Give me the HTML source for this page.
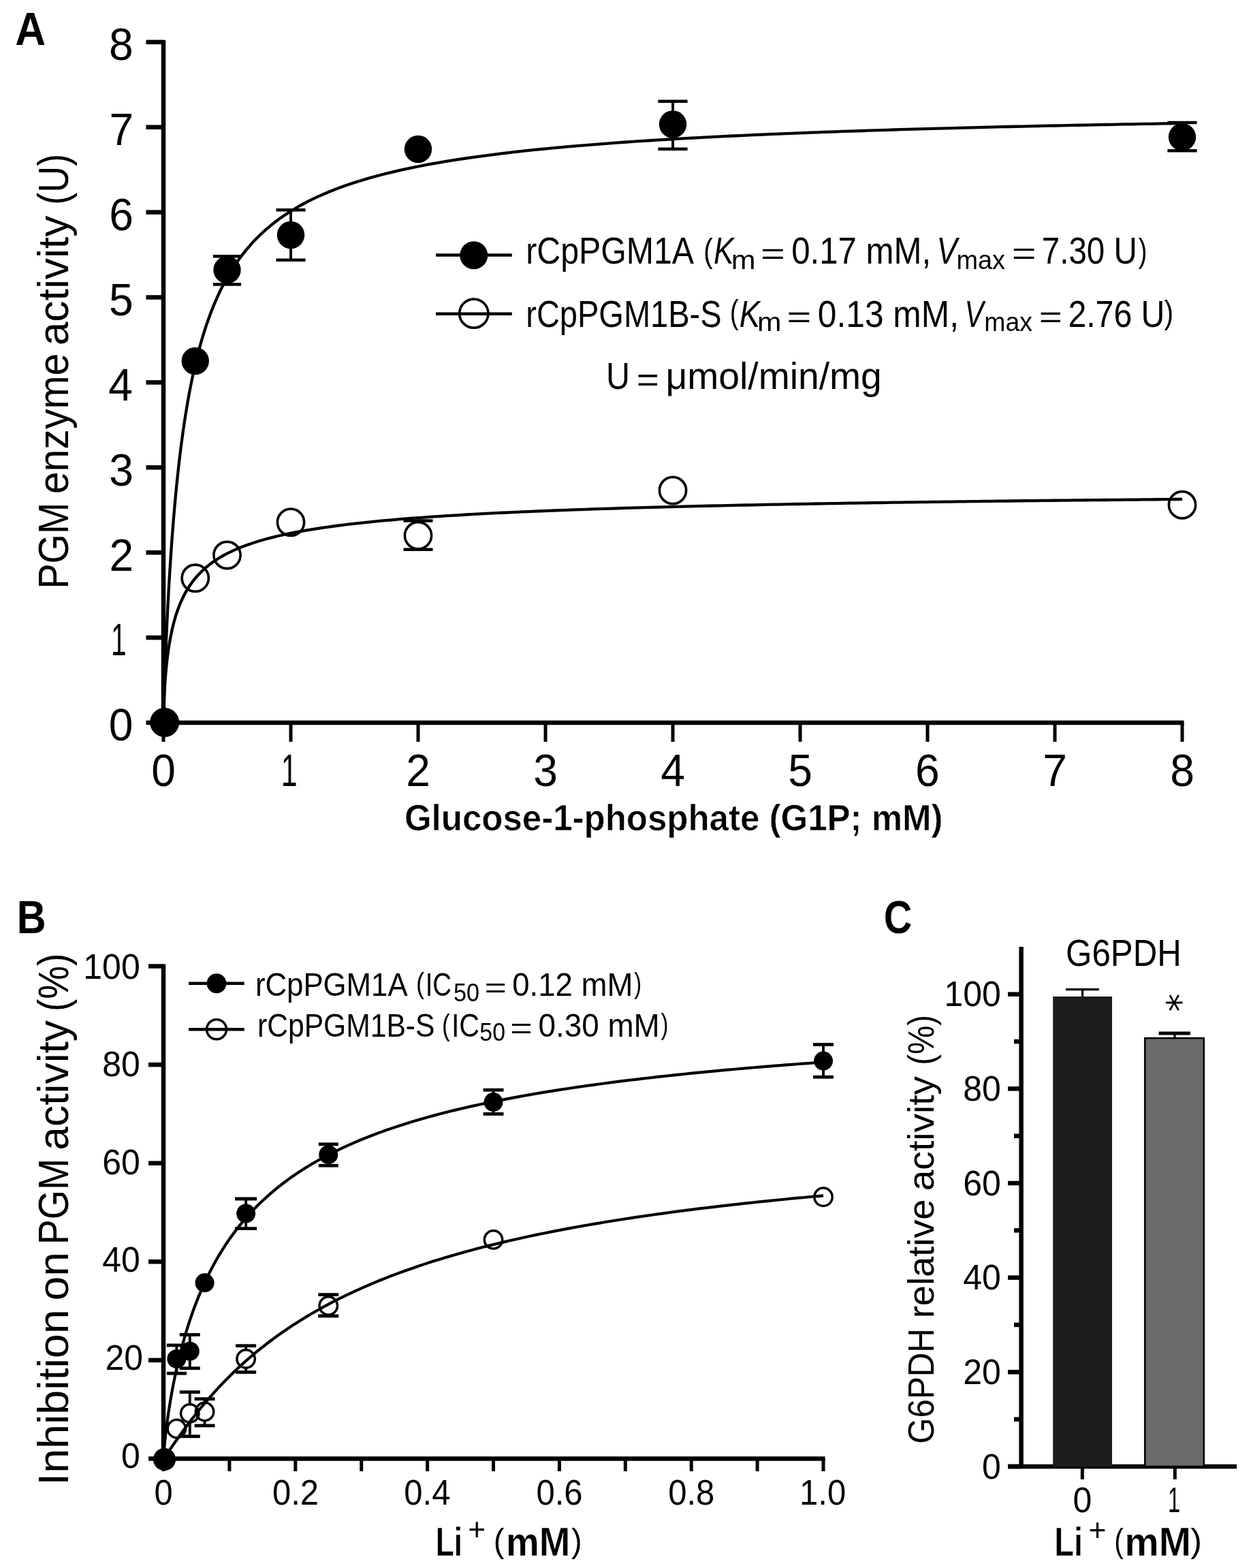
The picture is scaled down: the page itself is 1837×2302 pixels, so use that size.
<!DOCTYPE html>
<html><head><meta charset="utf-8"><title>PGM enzyme activity figure</title>
<style>html,body{margin:0;padding:0;background:#fff;}svg{display:block;}text{font-kerning:none;}</style>
</head><body>
<svg width="1837" height="2302" viewBox="0 0 1837 2302" font-family="'Liberation Sans', Arial, sans-serif" fill="#000">
<rect width="1837" height="2302" fill="#fff"/>
<g stroke="#000" stroke-linecap="butt">
<line x1="240.00" y1="58.80" x2="240.00" y2="1064.00" stroke-width="6.5"/>
<line x1="237.00" y1="1061.00" x2="1738.50" y2="1061.00" stroke-width="6.5"/>
<line x1="214.50" y1="1061.00" x2="240.00" y2="1061.00" stroke-width="6.5"/>
<line x1="214.50" y1="936.10" x2="240.00" y2="936.10" stroke-width="6.5"/>
<line x1="214.50" y1="811.20" x2="240.00" y2="811.20" stroke-width="6.5"/>
<line x1="214.50" y1="686.30" x2="240.00" y2="686.30" stroke-width="6.5"/>
<line x1="214.50" y1="561.40" x2="240.00" y2="561.40" stroke-width="6.5"/>
<line x1="214.50" y1="436.50" x2="240.00" y2="436.50" stroke-width="6.5"/>
<line x1="214.50" y1="311.60" x2="240.00" y2="311.60" stroke-width="6.5"/>
<line x1="214.50" y1="186.70" x2="240.00" y2="186.70" stroke-width="6.5"/>
<line x1="214.50" y1="61.80" x2="240.00" y2="61.80" stroke-width="6.5"/>
<line x1="240.00" y1="1061.00" x2="240.00" y2="1089.00" stroke-width="5"/>
<line x1="427.00" y1="1061.00" x2="427.00" y2="1089.00" stroke-width="5"/>
<line x1="614.00" y1="1061.00" x2="614.00" y2="1089.00" stroke-width="5"/>
<line x1="801.00" y1="1061.00" x2="801.00" y2="1089.00" stroke-width="5"/>
<line x1="988.00" y1="1061.00" x2="988.00" y2="1089.00" stroke-width="5"/>
<line x1="1175.00" y1="1061.00" x2="1175.00" y2="1089.00" stroke-width="5"/>
<line x1="1362.00" y1="1061.00" x2="1362.00" y2="1089.00" stroke-width="5"/>
<line x1="1549.00" y1="1061.00" x2="1549.00" y2="1089.00" stroke-width="5"/>
<line x1="1736.00" y1="1061.00" x2="1736.00" y2="1089.00" stroke-width="5"/>
</g>
<text x="159.84" y="1087.30" font-size="67.5" textLength="35.66" lengthAdjust="spacingAndGlyphs">0</text>
<text x="162.91" y="962.40" font-size="67.5" textLength="22.57" lengthAdjust="spacingAndGlyphs">1</text>
<text x="160.56" y="837.50" font-size="67.5" textLength="35.66" lengthAdjust="spacingAndGlyphs">2</text>
<text x="160.15" y="712.60" font-size="67.5" textLength="35.66" lengthAdjust="spacingAndGlyphs">3</text>
<text x="159.22" y="587.70" font-size="67.5" textLength="35.66" lengthAdjust="spacingAndGlyphs">4</text>
<text x="160.03" y="462.80" font-size="67.5" textLength="35.66" lengthAdjust="spacingAndGlyphs">5</text>
<text x="160.15" y="337.90" font-size="67.5" textLength="35.66" lengthAdjust="spacingAndGlyphs">6</text>
<text x="160.56" y="213.00" font-size="67.5" textLength="35.66" lengthAdjust="spacingAndGlyphs">7</text>
<text x="160.12" y="88.10" font-size="67.5" textLength="35.66" lengthAdjust="spacingAndGlyphs">8</text>
<text x="222.17" y="1153.50" font-size="67.5" textLength="35.66" lengthAdjust="spacingAndGlyphs">0</text>
<text x="412.73" y="1153.50" font-size="67.5" textLength="23.86" lengthAdjust="spacingAndGlyphs">1</text>
<text x="596.17" y="1153.50" font-size="67.5" textLength="35.66" lengthAdjust="spacingAndGlyphs">2</text>
<text x="783.36" y="1153.50" font-size="67.5" textLength="35.66" lengthAdjust="spacingAndGlyphs">3</text>
<text x="970.37" y="1153.50" font-size="67.5" textLength="35.66" lengthAdjust="spacingAndGlyphs">4</text>
<text x="1157.23" y="1153.50" font-size="67.5" textLength="35.66" lengthAdjust="spacingAndGlyphs">5</text>
<text x="1343.95" y="1153.50" font-size="67.5" textLength="35.66" lengthAdjust="spacingAndGlyphs">6</text>
<text x="1531.14" y="1153.50" font-size="67.5" textLength="35.66" lengthAdjust="spacingAndGlyphs">7</text>
<text x="1718.17" y="1153.50" font-size="67.5" textLength="35.66" lengthAdjust="spacingAndGlyphs">8</text>
<text transform="translate(99.80,860.00) rotate(-90)" x="-4.57" y="0" font-size="63.7" textLength="126.84" lengthAdjust="spacingAndGlyphs">PGM</text>
<text transform="translate(99.80,722.80) rotate(-90)" x="-2.51" y="0" font-size="63.7" textLength="206.73" lengthAdjust="spacingAndGlyphs">enzyme</text>
<text transform="translate(99.80,504.70) rotate(-90)" x="-2.65" y="0" font-size="63.7" textLength="190.77" lengthAdjust="spacingAndGlyphs">activity</text>
<text transform="translate(99.80,297.40) rotate(-90)" x="-3.35" y="0" font-size="63.7" textLength="74.89" lengthAdjust="spacingAndGlyphs">(U)</text>
<text x="593.91" y="1218.75" font-size="53.5" font-weight="bold" textLength="790.63" lengthAdjust="spacingAndGlyphs" stroke="#fff" stroke-width="0.6">Glucose-1-phosphate (G1P; mM)</text>
<text x="22.20" y="66.00" font-size="67.6" font-weight="bold" textLength="44.94" lengthAdjust="spacingAndGlyphs">A</text>
<g>
<path d="M240.00,1061.00 L240.24,1050.16 L240.48,1041.01 L240.72,1032.51 L240.96,1024.45 L241.20,1016.74 L241.44,1009.31 L241.68,1002.14 L241.92,995.19 L242.16,988.43 L242.40,981.86 L242.64,975.46 L242.88,969.21 L243.12,963.11 L243.36,957.14 L243.60,951.31 L243.84,945.60 L244.08,940.00 L244.32,934.52 L244.56,929.14 L244.79,923.86 L245.03,918.68 L245.27,913.60 L245.51,908.61 L245.75,903.70 L245.99,898.87 L246.23,894.13 L246.47,889.47 L246.71,884.88 L246.95,880.36 L247.19,875.92 L247.43,871.54 L247.67,867.23 L247.91,862.99 L248.15,858.80 L248.39,854.68 L248.63,850.62 L248.87,846.62 L249.11,842.67 L249.35,838.78 L249.35,838.78 L250.78,816.70 L252.20,796.26 L253.63,777.27 L255.06,759.55 L256.48,742.96 L257.91,727.39 L259.33,712.74 L260.76,698.92 L262.19,685.86 L263.61,673.48 L265.04,661.74 L266.47,650.57 L267.89,639.95 L269.32,629.82 L270.74,620.15 L272.17,610.90 L273.60,602.06 L275.02,593.59 L276.45,585.46 L277.88,577.65 L279.30,570.16 L280.73,562.94 L282.15,556.00 L283.58,549.31 L285.01,542.86 L286.43,536.64 L287.86,530.63 L289.29,524.82 L290.71,519.21 L292.14,513.78 L293.56,508.52 L294.99,503.42 L296.42,498.48 L297.84,493.69 L299.27,489.05 L300.70,484.54 L302.12,480.16 L303.55,475.90 L304.97,471.76 L306.40,467.73 L307.83,463.82 L309.25,460.01 L310.68,456.29 L312.11,452.68 L313.53,449.15 L314.96,445.72 L316.38,442.37 L317.81,439.10 L319.24,435.91 L320.66,432.79 L322.09,429.75 L323.52,426.78 L324.94,423.88 L326.37,421.04 L327.79,418.27 L329.22,415.56 L330.65,412.90 L332.07,410.31 L333.50,407.77 L333.50,407.77 L342.91,392.26 L352.33,378.65 L361.74,366.60 L371.15,355.85 L380.56,346.20 L389.98,337.47 L399.39,329.55 L408.80,322.32 L418.21,315.70 L427.63,309.60 L437.04,303.97 L446.45,298.75 L455.87,293.91 L465.28,289.39 L474.69,285.17 L484.10,281.22 L493.52,277.51 L502.93,274.02 L512.34,270.74 L521.76,267.63 L531.17,264.70 L540.58,261.92 L549.99,259.28 L559.41,256.77 L568.82,254.39 L578.23,252.12 L587.64,249.95 L597.06,247.88 L606.47,245.91 L615.88,244.01 L625.30,242.20 L634.71,240.46 L644.12,238.80 L653.53,237.19 L662.95,235.65 L672.36,234.17 L681.77,232.75 L691.18,231.37 L700.60,230.04 L710.01,228.77 L719.42,227.53 L728.84,226.34 L738.25,225.18 L747.66,224.07 L757.07,222.98 L766.49,221.94 L775.90,220.92 L785.31,219.94 L794.72,218.99 L804.14,218.06 L813.55,217.16 L822.96,216.29 L832.38,215.44 L841.79,214.62 L851.20,213.81 L860.61,213.03 L870.03,212.27 L879.44,211.53 L888.85,210.81 L898.27,210.11 L907.68,209.43 L917.09,208.76 L926.50,208.11 L935.92,207.47 L945.33,206.85 L954.74,206.24 L964.15,205.65 L973.57,205.08 L982.98,204.51 L992.39,203.96 L1001.81,203.42 L1011.22,202.89 L1020.63,202.37 L1030.04,201.87 L1039.46,201.37 L1048.87,200.89 L1058.28,200.42 L1067.69,199.95 L1077.11,199.50 L1086.52,199.05 L1095.93,198.61 L1105.35,198.18 L1114.76,197.76 L1124.17,197.35 L1133.58,196.95 L1143.00,196.55 L1152.41,196.16 L1161.82,195.78 L1171.23,195.41 L1180.65,195.04 L1190.06,194.68 L1199.47,194.32 L1208.89,193.97 L1218.30,193.63 L1227.71,193.29 L1237.12,192.96 L1246.54,192.64 L1255.95,192.32 L1265.36,192.00 L1274.78,191.69 L1284.19,191.39 L1293.60,191.09 L1303.01,190.79 L1312.43,190.50 L1321.84,190.22 L1331.25,189.94 L1340.66,189.66 L1350.08,189.39 L1359.49,189.12 L1368.90,188.86 L1378.32,188.60 L1387.73,188.34 L1397.14,188.09 L1406.55,187.84 L1415.97,187.60 L1425.38,187.36 L1434.79,187.12 L1444.20,186.88 L1453.62,186.65 L1463.03,186.43 L1472.44,186.20 L1481.86,185.98 L1491.27,185.76 L1500.68,185.55 L1510.09,185.33 L1519.51,185.12 L1528.92,184.92 L1538.33,184.71 L1547.74,184.51 L1557.16,184.31 L1566.57,184.12 L1575.98,183.92 L1585.40,183.73 L1594.81,183.54 L1604.22,183.36 L1613.63,183.17 L1623.05,182.99 L1632.46,182.81 L1641.87,182.64 L1651.29,182.46 L1660.70,182.29 L1670.11,182.12 L1679.52,181.95 L1688.94,181.78 L1698.35,181.62 L1707.76,181.46 L1717.17,181.29 L1726.59,181.14 L1736.00,180.98" fill="none" stroke="#000" stroke-width="4.3" stroke-linejoin="round"/>
<path d="M240.00,1061.00 L240.24,1046.22 L240.48,1037.98 L240.72,1031.36 L240.96,1025.65 L241.20,1020.57 L241.44,1015.97 L241.68,1011.73 L241.92,1007.79 L242.16,1004.11 L242.40,1000.64 L242.64,997.37 L242.88,994.26 L243.12,991.30 L243.36,988.47 L243.60,985.76 L243.84,983.15 L244.08,980.65 L244.32,978.25 L244.56,975.92 L244.79,973.68 L245.03,971.50 L245.27,969.40 L245.51,967.36 L245.75,965.38 L245.99,963.46 L246.23,961.59 L246.47,959.77 L246.71,958.00 L246.95,956.27 L247.19,954.59 L247.43,952.95 L247.67,951.35 L247.91,949.78 L248.15,948.25 L248.39,946.75 L248.63,945.29 L248.87,943.86 L249.11,942.45 L249.35,941.08 L249.35,941.08 L250.78,933.44 L252.20,926.58 L253.63,920.38 L255.06,914.71 L256.48,909.50 L257.91,904.69 L259.33,900.22 L260.76,896.06 L262.19,892.16 L263.61,888.50 L265.04,885.05 L266.47,881.80 L267.89,878.72 L269.32,875.80 L270.74,873.02 L272.17,870.38 L273.60,867.85 L275.02,865.44 L276.45,863.13 L277.88,860.92 L279.30,858.80 L280.73,856.77 L282.15,854.81 L283.58,852.92 L285.01,851.11 L286.43,849.35 L287.86,847.66 L289.29,846.03 L290.71,844.44 L292.14,842.91 L293.56,841.43 L294.99,840.00 L296.42,838.60 L297.84,837.25 L299.27,835.94 L300.70,834.66 L302.12,833.42 L303.55,832.22 L304.97,831.04 L306.40,829.90 L307.83,828.79 L309.25,827.70 L310.68,826.64 L312.11,825.61 L313.53,824.61 L314.96,823.62 L316.38,822.66 L317.81,821.73 L319.24,820.81 L320.66,819.91 L322.09,819.04 L323.52,818.18 L324.94,817.34 L326.37,816.52 L327.79,815.72 L329.22,814.93 L330.65,814.16 L332.07,813.40 L333.50,812.66 L333.50,812.66 L342.91,808.11 L352.33,804.07 L361.74,800.45 L371.15,797.19 L380.56,794.23 L389.98,791.53 L399.39,789.05 L408.80,786.76 L418.21,784.65 L427.63,782.68 L437.04,780.85 L446.45,779.14 L455.87,777.54 L465.28,776.03 L474.69,774.61 L484.10,773.27 L493.52,772.00 L502.93,770.80 L512.34,769.65 L521.76,768.57 L531.17,767.53 L540.58,766.55 L549.99,765.61 L559.41,764.70 L568.82,763.84 L578.23,763.02 L587.64,762.22 L597.06,761.46 L606.47,760.73 L615.88,760.02 L625.30,759.34 L634.71,758.69 L644.12,758.05 L653.53,757.44 L662.95,756.85 L672.36,756.28 L681.77,755.73 L691.18,755.19 L700.60,754.68 L710.01,754.17 L719.42,753.69 L728.84,753.21 L738.25,752.75 L747.66,752.31 L757.07,751.87 L766.49,751.45 L775.90,751.04 L785.31,750.64 L794.72,750.25 L804.14,749.87 L813.55,749.50 L822.96,749.14 L832.38,748.79 L841.79,748.44 L851.20,748.11 L860.61,747.78 L870.03,747.46 L879.44,747.15 L888.85,746.84 L898.27,746.54 L907.68,746.25 L917.09,745.96 L926.50,745.68 L935.92,745.41 L945.33,745.14 L954.74,744.88 L964.15,744.62 L973.57,744.37 L982.98,744.12 L992.39,743.88 L1001.81,743.64 L1011.22,743.40 L1020.63,743.18 L1030.04,742.95 L1039.46,742.73 L1048.87,742.51 L1058.28,742.30 L1067.69,742.09 L1077.11,741.89 L1086.52,741.68 L1095.93,741.49 L1105.35,741.29 L1114.76,741.10 L1124.17,740.91 L1133.58,740.72 L1143.00,740.54 L1152.41,740.36 L1161.82,740.19 L1171.23,740.01 L1180.65,739.84 L1190.06,739.67 L1199.47,739.51 L1208.89,739.34 L1218.30,739.18 L1227.71,739.03 L1237.12,738.87 L1246.54,738.72 L1255.95,738.56 L1265.36,738.42 L1274.78,738.27 L1284.19,738.12 L1293.60,737.98 L1303.01,737.84 L1312.43,737.70 L1321.84,737.56 L1331.25,737.43 L1340.66,737.29 L1350.08,737.16 L1359.49,737.03 L1368.90,736.90 L1378.32,736.78 L1387.73,736.65 L1397.14,736.53 L1406.55,736.41 L1415.97,736.29 L1425.38,736.17 L1434.79,736.05 L1444.20,735.94 L1453.62,735.82 L1463.03,735.71 L1472.44,735.60 L1481.86,735.49 L1491.27,735.38 L1500.68,735.27 L1510.09,735.17 L1519.51,735.06 L1528.92,734.96 L1538.33,734.85 L1547.74,734.75 L1557.16,734.65 L1566.57,734.55 L1575.98,734.46 L1585.40,734.36 L1594.81,734.26 L1604.22,734.17 L1613.63,734.07 L1623.05,733.98 L1632.46,733.89 L1641.87,733.80 L1651.29,733.71 L1660.70,733.62 L1670.11,733.53 L1679.52,733.45 L1688.94,733.36 L1698.35,733.27 L1707.76,733.19 L1717.17,733.11 L1726.59,733.02 L1736.00,732.94" fill="none" stroke="#000" stroke-width="4.3" stroke-linejoin="round"/>
</g>
<g stroke="#000">
<line x1="333.50" y1="376.25" x2="333.50" y2="417.50" stroke-width="3.9"/>
<line x1="312.90" y1="376.25" x2="354.10" y2="376.25" stroke-width="4.4"/>
<line x1="312.90" y1="417.50" x2="354.10" y2="417.50" stroke-width="4.4"/>
<line x1="427.00" y1="308.25" x2="427.00" y2="381.75" stroke-width="3.9"/>
<line x1="405.50" y1="308.25" x2="448.50" y2="308.25" stroke-width="4.4"/>
<line x1="405.50" y1="381.75" x2="448.50" y2="381.75" stroke-width="4.4"/>
<line x1="988.00" y1="148.75" x2="988.00" y2="218.75" stroke-width="3.9"/>
<line x1="966.40" y1="148.75" x2="1009.60" y2="148.75" stroke-width="4.4"/>
<line x1="966.40" y1="218.75" x2="1009.60" y2="218.75" stroke-width="4.4"/>
<line x1="1736.00" y1="180.00" x2="1736.00" y2="221.25" stroke-width="3.9"/>
<line x1="1714.40" y1="180.00" x2="1757.60" y2="180.00" stroke-width="4.4"/>
<line x1="1714.40" y1="221.25" x2="1757.60" y2="221.25" stroke-width="4.4"/>
<line x1="614.00" y1="764.50" x2="614.00" y2="766.25" stroke-width="3.9"/>
<line x1="614.00" y1="806.25" x2="614.00" y2="806.75" stroke-width="3.9"/>
<line x1="592.50" y1="764.50" x2="635.50" y2="764.50" stroke-width="4.4"/>
<line x1="592.50" y1="806.75" x2="635.50" y2="806.75" stroke-width="4.4"/>
</g>
<circle cx="286.75" cy="848.75" r="19.6" fill="none" stroke="#000" stroke-width="3.6"/>
<circle cx="333.50" cy="815.00" r="19.6" fill="none" stroke="#000" stroke-width="3.6"/>
<circle cx="427.00" cy="766.75" r="19.6" fill="none" stroke="#000" stroke-width="3.6"/>
<circle cx="614.00" cy="786.25" r="19.6" fill="none" stroke="#000" stroke-width="3.6"/>
<circle cx="988.00" cy="720.00" r="19.6" fill="none" stroke="#000" stroke-width="3.6"/>
<circle cx="1736.00" cy="741.25" r="19.6" fill="none" stroke="#000" stroke-width="3.6"/>
<circle cx="241.70" cy="1060.60" r="21.5" fill="#000"/>
<circle cx="286.75" cy="530.00" r="20.2" fill="#000"/>
<circle cx="333.50" cy="396.25" r="20.2" fill="#000"/>
<circle cx="427.00" cy="345.00" r="20.2" fill="#000"/>
<circle cx="614.00" cy="219.00" r="20.2" fill="#000"/>
<circle cx="988.00" cy="182.50" r="20.2" fill="#000"/>
<circle cx="1736.00" cy="201.25" r="20.2" fill="#000"/>
<g stroke="#000">
<line x1="640.00" y1="374.50" x2="751.75" y2="374.50" stroke-width="4.4"/>
<line x1="640.00" y1="460.75" x2="751.75" y2="460.75" stroke-width="4.4"/>
</g>
<circle cx="695.75" cy="374.80" r="20.5" fill="#000"/>
<circle cx="695.80" cy="460.20" r="21.1" fill="none" stroke="#000" stroke-width="3.6"/>
<text x="772.19" y="387.40" font-size="55.0" textLength="246.80" lengthAdjust="spacingAndGlyphs">rCpPGM1A</text>
<text x="1033.05" y="385.07" font-size="49.91" textLength="13.69" lengthAdjust="spacingAndGlyphs">(</text>
<text x="1048.04" y="387.40" font-size="55.0" font-style="italic" textLength="29.54" lengthAdjust="spacingAndGlyphs">K</text>
<text x="1073.85" y="395.40" font-size="38.0" textLength="35.78" lengthAdjust="spacingAndGlyphs">m</text>
<text x="1116.91" y="387.66" font-size="44.99" textLength="35.82" lengthAdjust="spacingAndGlyphs">=</text>
<text x="1162.28" y="387.40" font-size="55.0" textLength="204.94" lengthAdjust="spacingAndGlyphs">0.17 mM,</text>
<text x="1375.59" y="387.40" font-size="55.0" font-style="italic" textLength="30.20" lengthAdjust="spacingAndGlyphs">V</text>
<text x="1404.39" y="395.40" font-size="38.0" textLength="71.52" lengthAdjust="spacingAndGlyphs">max</text>
<text x="1485.71" y="387.97" font-size="46.86" textLength="35.82" lengthAdjust="spacingAndGlyphs">=</text>
<text x="1529.87" y="387.40" font-size="55.0" textLength="139.79" lengthAdjust="spacingAndGlyphs">7.30 U</text>
<text x="1671.68" y="385.22" font-size="49.16" textLength="12.69" lengthAdjust="spacingAndGlyphs">)</text>
<text x="772.28" y="480.00" font-size="55.0" textLength="287.28" lengthAdjust="spacingAndGlyphs">rCpPGM1B-S</text>
<text x="1071.71" y="475.22" font-size="49.16" textLength="12.81" lengthAdjust="spacingAndGlyphs">(</text>
<text x="1085.81" y="480.00" font-size="55.0" font-style="italic" textLength="30.23" lengthAdjust="spacingAndGlyphs">K</text>
<text x="1111.98" y="486.00" font-size="38.0" textLength="35.43" lengthAdjust="spacingAndGlyphs">m</text>
<text x="1155.41" y="479.70" font-size="44.06" textLength="35.82" lengthAdjust="spacingAndGlyphs">=</text>
<text x="1200.86" y="480.00" font-size="55.0" textLength="207.11" lengthAdjust="spacingAndGlyphs">0.13 mM,</text>
<text x="1416.58" y="480.00" font-size="55.0" font-style="italic" textLength="27.97" lengthAdjust="spacingAndGlyphs">V</text>
<text x="1445.32" y="486.00" font-size="38.0" textLength="70.69" lengthAdjust="spacingAndGlyphs">max</text>
<text x="1525.86" y="479.70" font-size="44.06" textLength="34.02" lengthAdjust="spacingAndGlyphs">=</text>
<text x="1568.38" y="480.00" font-size="55.0" textLength="142.04" lengthAdjust="spacingAndGlyphs">2.76 U</text>
<text x="1709.46" y="475.38" font-size="48.41" textLength="13.69" lengthAdjust="spacingAndGlyphs">)</text>
<text x="890.01" y="571.00" font-size="56" textLength="34.97" lengthAdjust="spacingAndGlyphs">U</text>
<text x="934.74" y="574.30" font-size="50.58" textLength="33.06" lengthAdjust="spacingAndGlyphs">=</text>
<text x="977.53" y="571.00" font-size="56" textLength="317.28" lengthAdjust="spacingAndGlyphs">μmol/min/mg</text>
<g stroke="#000">
<line x1="240.00" y1="1415.50" x2="240.00" y2="2144.50" stroke-width="6.5"/>
<line x1="237.00" y1="2141.50" x2="1211.50" y2="2141.50" stroke-width="6.5"/>
<line x1="218.00" y1="2141.50" x2="240.00" y2="2141.50" stroke-width="6.5"/>
<line x1="218.00" y1="1996.90" x2="240.00" y2="1996.90" stroke-width="6.5"/>
<line x1="218.00" y1="1852.30" x2="240.00" y2="1852.30" stroke-width="6.5"/>
<line x1="218.00" y1="1707.70" x2="240.00" y2="1707.70" stroke-width="6.5"/>
<line x1="218.00" y1="1563.10" x2="240.00" y2="1563.10" stroke-width="6.5"/>
<line x1="218.00" y1="1418.50" x2="240.00" y2="1418.50" stroke-width="6.5"/>
<line x1="240.00" y1="2141.50" x2="240.00" y2="2160.00" stroke-width="5"/>
<line x1="336.90" y1="2141.50" x2="336.90" y2="2160.00" stroke-width="5"/>
<line x1="433.80" y1="2141.50" x2="433.80" y2="2160.00" stroke-width="5"/>
<line x1="530.70" y1="2141.50" x2="530.70" y2="2160.00" stroke-width="5"/>
<line x1="627.60" y1="2141.50" x2="627.60" y2="2160.00" stroke-width="5"/>
<line x1="724.50" y1="2141.50" x2="724.50" y2="2160.00" stroke-width="5"/>
<line x1="821.40" y1="2141.50" x2="821.40" y2="2160.00" stroke-width="5"/>
<line x1="918.30" y1="2141.50" x2="918.30" y2="2160.00" stroke-width="5"/>
<line x1="1015.20" y1="2141.50" x2="1015.20" y2="2160.00" stroke-width="5"/>
<line x1="1112.10" y1="2141.50" x2="1112.10" y2="2160.00" stroke-width="5"/>
<line x1="1209.00" y1="2141.50" x2="1209.00" y2="2160.00" stroke-width="5"/>
</g>
<text x="177.92" y="2154.50" font-size="51.5" textLength="27.78" lengthAdjust="spacingAndGlyphs">0</text>
<text x="154.39" y="2010.95" font-size="51.5" textLength="55.57" lengthAdjust="spacingAndGlyphs">20</text>
<text x="150.14" y="1867.40" font-size="51.5" textLength="55.57" lengthAdjust="spacingAndGlyphs">40</text>
<text x="150.14" y="1723.85" font-size="51.5" textLength="55.57" lengthAdjust="spacingAndGlyphs">60</text>
<text x="150.14" y="1580.30" font-size="51.5" textLength="55.57" lengthAdjust="spacingAndGlyphs">80</text>
<text x="122.35" y="1436.75" font-size="51.5" textLength="83.35" lengthAdjust="spacingAndGlyphs">100</text>
<text x="226.40" y="2208.50" font-size="51.5" textLength="27.21" lengthAdjust="spacingAndGlyphs">0</text>
<text x="400.07" y="2208.50" font-size="51.5" textLength="68.01" lengthAdjust="spacingAndGlyphs">0.2</text>
<text x="593.35" y="2208.50" font-size="51.5" textLength="68.01" lengthAdjust="spacingAndGlyphs">0.4</text>
<text x="787.51" y="2208.50" font-size="51.5" textLength="68.01" lengthAdjust="spacingAndGlyphs">0.6</text>
<text x="981.30" y="2208.50" font-size="51.5" textLength="68.01" lengthAdjust="spacingAndGlyphs">0.8</text>
<text x="1174.09" y="2208.50" font-size="51.5" textLength="68.01" lengthAdjust="spacingAndGlyphs">1.0</text>
<text transform="translate(99.70,2174.80) rotate(-90)" x="-5.96" y="0" font-size="63.7" textLength="258.35" lengthAdjust="spacingAndGlyphs">Inhibition</text>
<text transform="translate(99.70,1906.90) rotate(-90)" x="-2.70" y="0" font-size="63.7" textLength="71.47" lengthAdjust="spacingAndGlyphs">on</text>
<text transform="translate(99.70,1822.70) rotate(-90)" x="-4.56" y="0" font-size="63.7" textLength="126.51" lengthAdjust="spacingAndGlyphs">PGM</text>
<text transform="translate(99.70,1686.00) rotate(-90)" x="-2.65" y="0" font-size="63.7" textLength="190.67" lengthAdjust="spacingAndGlyphs">activity</text>
<text transform="translate(99.70,1481.60) rotate(-90)" x="-3.41" y="0" font-size="63.7" textLength="85.41" lengthAdjust="spacingAndGlyphs">(%)</text>
<text x="639.84" y="2283.50" font-size="58.9" font-weight="bold" textLength="39.29" lengthAdjust="spacingAndGlyphs" stroke="#fff" stroke-width="0.5">Li</text>
<text x="687.13" y="2261.02" font-size="45.78" textLength="25.96" lengthAdjust="spacingAndGlyphs">+</text>
<text x="724.78" y="2278.78" font-size="49.38" textLength="15.70" lengthAdjust="spacingAndGlyphs">(</text>
<text x="742.88" y="2283.50" font-size="58.9" font-weight="bold" textLength="94.49" lengthAdjust="spacingAndGlyphs" stroke="#fff" stroke-width="0.5">mM</text>
<text x="839.02" y="2278.78" font-size="49.38" textLength="15.70" lengthAdjust="spacingAndGlyphs">)</text>
<text x="24.77" y="1370.00" font-size="67.6" font-weight="bold" textLength="42.93" lengthAdjust="spacingAndGlyphs">B</text>
<path d="M240.00,2141.50 L240.67,2131.16 L241.34,2123.50 L242.00,2116.69 L242.67,2110.42 L243.34,2104.54 L244.01,2098.98 L244.68,2093.67 L245.35,2088.59 L246.01,2083.69 L246.68,2078.98 L247.35,2074.41 L248.02,2069.99 L248.69,2065.69 L249.36,2061.52 L250.02,2057.45 L250.69,2053.49 L251.36,2049.63 L252.03,2045.85 L252.70,2042.16 L253.37,2038.56 L254.03,2035.02 L254.70,2031.57 L255.37,2028.18 L256.04,2024.85 L256.71,2021.59 L257.38,2018.40 L258.04,2015.26 L258.71,2012.17 L259.38,2009.14 L259.38,2009.14 L262.34,1996.34 L265.29,1984.40 L268.25,1973.22 L271.21,1962.71 L274.16,1952.80 L277.12,1943.41 L280.07,1934.50 L283.03,1926.03 L285.99,1917.96 L288.94,1910.25 L291.90,1902.88 L294.86,1895.82 L297.81,1889.04 L300.77,1882.54 L303.72,1876.28 L306.68,1870.26 L309.64,1864.46 L312.59,1858.86 L315.55,1853.45 L318.51,1848.23 L321.46,1843.18 L324.42,1838.29 L327.37,1833.55 L330.33,1828.96 L333.29,1824.51 L336.24,1820.19 L339.20,1815.99 L342.16,1811.91 L345.11,1807.95 L348.07,1804.09 L351.02,1800.34 L353.98,1796.68 L356.94,1793.12 L359.89,1789.66 L362.85,1786.27 L365.81,1782.97 L368.76,1779.75 L371.72,1776.61 L374.67,1773.54 L377.63,1770.55 L380.59,1767.62 L383.54,1764.75 L386.50,1761.95 L389.46,1759.21 L392.41,1756.53 L395.37,1753.91 L398.32,1751.34 L401.28,1748.83 L404.24,1746.36 L407.19,1743.95 L410.15,1741.58 L413.11,1739.26 L416.06,1736.99 L419.02,1734.76 L421.97,1732.57 L424.93,1730.42 L427.89,1728.32 L430.84,1726.25 L433.80,1724.21 L433.80,1724.21 L441.63,1719.01 L449.46,1714.03 L457.29,1709.28 L465.12,1704.74 L472.95,1700.38 L480.78,1696.20 L488.61,1692.19 L496.44,1688.33 L504.27,1684.62 L512.10,1681.05 L519.93,1677.61 L527.76,1674.29 L535.59,1671.09 L543.42,1668.00 L551.25,1665.01 L559.08,1662.11 L566.92,1659.32 L574.75,1656.61 L582.58,1653.98 L590.41,1651.43 L598.24,1648.96 L606.07,1646.57 L613.90,1644.24 L621.73,1641.98 L629.56,1639.78 L637.39,1637.64 L645.22,1635.56 L653.05,1633.53 L660.88,1631.56 L668.71,1629.64 L676.54,1627.77 L684.37,1625.94 L692.20,1624.16 L700.03,1622.43 L707.86,1620.73 L715.69,1619.08 L723.52,1617.46 L731.35,1615.88 L739.18,1614.34 L747.01,1612.83 L754.84,1611.36 L762.67,1609.91 L770.50,1608.50 L778.33,1607.12 L786.16,1605.77 L793.99,1604.44 L801.82,1603.15 L809.65,1601.88 L817.48,1600.63 L825.32,1599.41 L833.15,1598.22 L840.98,1597.04 L848.81,1595.89 L856.64,1594.76 L864.47,1593.66 L872.30,1592.57 L880.13,1591.50 L887.96,1590.46 L895.79,1589.43 L903.62,1588.42 L911.45,1587.43 L919.28,1586.45 L927.11,1585.49 L934.94,1584.55 L942.77,1583.63 L950.60,1582.72 L958.43,1581.82 L966.26,1580.94 L974.09,1580.08 L981.92,1579.23 L989.75,1578.39 L997.58,1577.56 L1005.41,1576.75 L1013.24,1575.95 L1021.07,1575.17 L1028.90,1574.39 L1036.73,1573.63 L1044.56,1572.88 L1052.39,1572.14 L1060.22,1571.41 L1068.05,1570.69 L1075.88,1569.98 L1083.72,1569.28 L1091.55,1568.60 L1099.38,1567.92 L1107.21,1567.25 L1115.04,1566.59 L1122.87,1565.94 L1130.70,1565.30 L1138.53,1564.67 L1146.36,1564.05 L1154.19,1563.43 L1162.02,1562.82 L1169.85,1562.23 L1177.68,1561.63 L1185.51,1561.05 L1193.34,1560.48 L1201.17,1559.91 L1209.00,1559.35" fill="none" stroke="#000" stroke-width="4.2" stroke-linejoin="round"/>
<path d="M240.00,2141.50 L240.67,2140.67 L241.34,2139.78 L242.00,2138.86 L242.67,2137.93 L243.34,2136.99 L244.01,2136.04 L244.68,2135.08 L245.35,2134.12 L246.01,2133.16 L246.68,2132.20 L247.35,2131.23 L248.02,2130.27 L248.69,2129.30 L249.36,2128.33 L250.02,2127.36 L250.69,2126.39 L251.36,2125.43 L252.03,2124.46 L252.70,2123.50 L253.37,2122.53 L254.03,2121.57 L254.70,2120.61 L255.37,2119.65 L256.04,2118.69 L256.71,2117.73 L257.38,2116.77 L258.04,2115.82 L258.71,2114.87 L259.38,2113.92 L259.38,2113.92 L262.34,2109.74 L265.29,2105.61 L268.25,2101.52 L271.21,2097.48 L274.16,2093.50 L277.12,2089.56 L280.07,2085.68 L283.03,2081.85 L285.99,2078.07 L288.94,2074.34 L291.90,2070.67 L294.86,2067.04 L297.81,2063.47 L300.77,2059.95 L303.72,2056.48 L306.68,2053.06 L309.64,2049.69 L312.59,2046.36 L315.55,2043.09 L318.51,2039.86 L321.46,2036.67 L324.42,2033.54 L327.37,2030.44 L330.33,2027.39 L333.29,2024.39 L336.24,2021.42 L339.20,2018.50 L342.16,2015.62 L345.11,2012.78 L348.07,2009.98 L351.02,2007.21 L353.98,2004.49 L356.94,2001.80 L359.89,1999.15 L362.85,1996.54 L365.81,1993.96 L368.76,1991.42 L371.72,1988.91 L374.67,1986.43 L377.63,1983.99 L380.59,1981.58 L383.54,1979.20 L386.50,1976.86 L389.46,1974.54 L392.41,1972.25 L395.37,1970.00 L398.32,1967.77 L401.28,1965.57 L404.24,1963.40 L407.19,1961.26 L410.15,1959.15 L413.11,1957.06 L416.06,1954.99 L419.02,1952.96 L421.97,1950.95 L424.93,1948.96 L427.89,1947.00 L430.84,1945.06 L433.80,1943.15 L433.80,1943.15 L441.63,1938.19 L449.46,1933.38 L457.29,1928.73 L465.12,1924.21 L472.95,1919.84 L480.78,1915.59 L488.61,1911.47 L496.44,1907.47 L504.27,1903.58 L512.10,1899.81 L519.93,1896.13 L527.76,1892.57 L535.59,1889.09 L543.42,1885.72 L551.25,1882.43 L559.08,1879.23 L566.92,1876.11 L574.75,1873.07 L582.58,1870.11 L590.41,1867.23 L598.24,1864.41 L606.07,1861.67 L613.90,1858.99 L621.73,1856.38 L629.56,1853.83 L637.39,1851.33 L645.22,1848.90 L653.05,1846.52 L660.88,1844.20 L668.71,1841.93 L676.54,1839.71 L684.37,1837.54 L692.20,1835.42 L700.03,1833.34 L707.86,1831.31 L715.69,1829.32 L723.52,1827.37 L731.35,1825.46 L739.18,1823.60 L747.01,1821.77 L754.84,1819.97 L762.67,1818.22 L770.50,1816.50 L778.33,1814.81 L786.16,1813.15 L793.99,1811.53 L801.82,1809.94 L809.65,1808.38 L817.48,1806.85 L825.32,1805.34 L833.15,1803.87 L840.98,1802.42 L848.81,1801.00 L856.64,1799.60 L864.47,1798.23 L872.30,1796.88 L880.13,1795.56 L887.96,1794.25 L895.79,1792.98 L903.62,1791.72 L911.45,1790.48 L919.28,1789.27 L927.11,1788.08 L934.94,1786.90 L942.77,1785.75 L950.60,1784.61 L958.43,1783.49 L966.26,1782.40 L974.09,1781.31 L981.92,1780.25 L989.75,1779.20 L997.58,1778.17 L1005.41,1777.15 L1013.24,1776.15 L1021.07,1775.17 L1028.90,1774.20 L1036.73,1773.24 L1044.56,1772.30 L1052.39,1771.38 L1060.22,1770.46 L1068.05,1769.56 L1075.88,1768.68 L1083.72,1767.80 L1091.55,1766.94 L1099.38,1766.09 L1107.21,1765.26 L1115.04,1764.43 L1122.87,1763.62 L1130.70,1762.81 L1138.53,1762.02 L1146.36,1761.24 L1154.19,1760.47 L1162.02,1759.71 L1169.85,1758.96 L1177.68,1758.22 L1185.51,1757.49 L1193.34,1756.77 L1201.17,1756.06 L1209.00,1755.36" fill="none" stroke="#000" stroke-width="4.2" stroke-linejoin="round"/>
<g stroke="#000">
<line x1="259.38" y1="1975.00" x2="259.38" y2="2016.25" stroke-width="3.9"/>
<line x1="244.78" y1="1975.00" x2="273.98" y2="1975.00" stroke-width="4.8"/>
<line x1="244.78" y1="2016.25" x2="273.98" y2="2016.25" stroke-width="4.8"/>
<line x1="278.76" y1="1959.50" x2="278.76" y2="2008.75" stroke-width="3.9"/>
<line x1="263.76" y1="1959.50" x2="293.76" y2="1959.50" stroke-width="4.8"/>
<line x1="263.76" y1="2008.75" x2="293.76" y2="2008.75" stroke-width="4.8"/>
<line x1="361.12" y1="1760.00" x2="361.12" y2="1803.60" stroke-width="3.9"/>
<line x1="345.12" y1="1760.00" x2="377.12" y2="1760.00" stroke-width="4.8"/>
<line x1="345.12" y1="1803.60" x2="377.12" y2="1803.60" stroke-width="4.8"/>
<line x1="482.25" y1="1679.80" x2="482.25" y2="1711.20" stroke-width="3.9"/>
<line x1="467.75" y1="1679.80" x2="496.75" y2="1679.80" stroke-width="4.8"/>
<line x1="467.75" y1="1711.20" x2="496.75" y2="1711.20" stroke-width="4.8"/>
<line x1="724.50" y1="1600.20" x2="724.50" y2="1635.40" stroke-width="3.9"/>
<line x1="709.50" y1="1600.20" x2="739.50" y2="1600.20" stroke-width="4.8"/>
<line x1="709.50" y1="1635.40" x2="739.50" y2="1635.40" stroke-width="4.8"/>
<line x1="1209.00" y1="1533.50" x2="1209.00" y2="1581.20" stroke-width="3.9"/>
<line x1="1194.00" y1="1533.50" x2="1224.00" y2="1533.50" stroke-width="4.8"/>
<line x1="1194.00" y1="1581.20" x2="1224.00" y2="1581.20" stroke-width="4.8"/>
<line x1="278.76" y1="2043.75" x2="278.76" y2="2061.50" stroke-width="3.9"/>
<line x1="278.76" y1="2088.50" x2="278.76" y2="2108.75" stroke-width="3.9"/>
<line x1="263.76" y1="2043.75" x2="293.76" y2="2043.75" stroke-width="4.8"/>
<line x1="263.76" y1="2108.75" x2="293.76" y2="2108.75" stroke-width="4.8"/>
<line x1="300.56" y1="2053.75" x2="300.56" y2="2059.00" stroke-width="3.9"/>
<line x1="300.56" y1="2086.00" x2="300.56" y2="2093.00" stroke-width="3.9"/>
<line x1="285.56" y1="2053.75" x2="315.56" y2="2053.75" stroke-width="4.8"/>
<line x1="285.56" y1="2093.00" x2="315.56" y2="2093.00" stroke-width="4.8"/>
<line x1="361.12" y1="1975.75" x2="361.12" y2="1981.50" stroke-width="3.9"/>
<line x1="361.12" y1="2008.50" x2="361.12" y2="2014.50" stroke-width="3.9"/>
<line x1="346.12" y1="1975.75" x2="376.12" y2="1975.75" stroke-width="4.8"/>
<line x1="346.12" y1="2014.50" x2="376.12" y2="2014.50" stroke-width="4.8"/>
<line x1="482.25" y1="1900.70" x2="482.25" y2="1903.50" stroke-width="3.9"/>
<line x1="482.25" y1="1930.50" x2="482.25" y2="1932.00" stroke-width="3.9"/>
<line x1="467.25" y1="1900.70" x2="497.25" y2="1900.70" stroke-width="4.8"/>
<line x1="467.25" y1="1932.00" x2="497.25" y2="1932.00" stroke-width="4.8"/>
</g>
<circle cx="259.38" cy="2097.50" r="13.2" fill="none" stroke="#000" stroke-width="3.5"/>
<circle cx="278.76" cy="2075.00" r="13.2" fill="none" stroke="#000" stroke-width="3.5"/>
<circle cx="300.56" cy="2072.50" r="13.2" fill="none" stroke="#000" stroke-width="3.5"/>
<circle cx="361.12" cy="1995.00" r="13.2" fill="none" stroke="#000" stroke-width="3.5"/>
<circle cx="482.25" cy="1917.00" r="13.2" fill="none" stroke="#000" stroke-width="3.5"/>
<circle cx="724.50" cy="1820.00" r="13.2" fill="none" stroke="#000" stroke-width="3.5"/>
<circle cx="1209.00" cy="1757.30" r="13.2" fill="none" stroke="#000" stroke-width="3.5"/>
<circle cx="241.50" cy="2142.50" r="16.6" fill="#000"/>
<circle cx="259.38" cy="1995.00" r="14.0" fill="#000"/>
<circle cx="278.76" cy="1983.75" r="14.0" fill="#000"/>
<circle cx="300.56" cy="1883.30" r="14.0" fill="#000"/>
<circle cx="361.12" cy="1781.50" r="14.0" fill="#000"/>
<circle cx="482.25" cy="1695.20" r="14.0" fill="#000"/>
<circle cx="724.50" cy="1618.10" r="14.0" fill="#000"/>
<circle cx="1209.00" cy="1557.60" r="14.0" fill="#000"/>
<g stroke="#000">
<line x1="277.00" y1="1443.75" x2="358.75" y2="1443.75" stroke-width="4.4"/>
<line x1="277.00" y1="1511.25" x2="358.75" y2="1511.25" stroke-width="4.4"/>
</g>
<circle cx="318.00" cy="1443.75" r="14.4" fill="#000"/>
<circle cx="318.00" cy="1511.25" r="14.5" fill="none" stroke="#000" stroke-width="3.5"/>
<text x="374.89" y="1462.20" font-size="48.7" textLength="223.69" lengthAdjust="spacingAndGlyphs">rCpPGM1A</text>
<text x="611.05" y="1458.36" font-size="42.18" textLength="12.06" lengthAdjust="spacingAndGlyphs">(</text>
<text x="624.66" y="1462.20" font-size="48.7" textLength="38.41" lengthAdjust="spacingAndGlyphs">IC</text>
<text x="665.93" y="1469.90" font-size="37" textLength="38.00" lengthAdjust="spacingAndGlyphs">50</text>
<text x="711.40" y="1463.63" font-size="41.27" textLength="32.33" lengthAdjust="spacingAndGlyphs">=</text>
<text x="752.22" y="1462.20" font-size="48.7" textLength="177.22" lengthAdjust="spacingAndGlyphs">0.12 mM</text>
<text x="931.31" y="1458.26" font-size="42.18" textLength="10.80" lengthAdjust="spacingAndGlyphs">)</text>
<text x="377.97" y="1522.00" font-size="48.7" textLength="260.49" lengthAdjust="spacingAndGlyphs">rCpPGM1B-S</text>
<text x="649.02" y="1519.71" font-size="44.87" textLength="11.68" lengthAdjust="spacingAndGlyphs">(</text>
<text x="662.89" y="1522.00" font-size="48.7" textLength="41.28" lengthAdjust="spacingAndGlyphs">IC</text>
<text x="704.35" y="1528.40" font-size="37" textLength="37.57" lengthAdjust="spacingAndGlyphs">50</text>
<text x="749.39" y="1523.88" font-size="41.58" textLength="32.45" lengthAdjust="spacingAndGlyphs">=</text>
<text x="790.61" y="1522.00" font-size="48.7" textLength="178.15" lengthAdjust="spacingAndGlyphs">0.30 mM</text>
<text x="970.61" y="1518.47" font-size="43.15" textLength="10.93" lengthAdjust="spacingAndGlyphs">)</text>
<g stroke="#000">
<line x1="1499.60" y1="1390.00" x2="1499.60" y2="2156.00" stroke-width="6.5"/>
<line x1="1480.00" y1="2153.00" x2="1816.00" y2="2153.00" stroke-width="6.5"/>
<line x1="1480.00" y1="2153.00" x2="1500.00" y2="2153.00" stroke-width="6.5"/>
<line x1="1480.00" y1="2014.34" x2="1500.00" y2="2014.34" stroke-width="6.5"/>
<line x1="1480.00" y1="1875.68" x2="1500.00" y2="1875.68" stroke-width="6.5"/>
<line x1="1480.00" y1="1737.02" x2="1500.00" y2="1737.02" stroke-width="6.5"/>
<line x1="1480.00" y1="1598.36" x2="1500.00" y2="1598.36" stroke-width="6.5"/>
<line x1="1480.00" y1="1459.70" x2="1500.00" y2="1459.70" stroke-width="6.5"/>
<line x1="1489.00" y1="2083.67" x2="1500.00" y2="2083.67" stroke-width="6.5"/>
<line x1="1489.00" y1="1945.01" x2="1500.00" y2="1945.01" stroke-width="6.5"/>
<line x1="1489.00" y1="1806.35" x2="1500.00" y2="1806.35" stroke-width="6.5"/>
<line x1="1489.00" y1="1667.69" x2="1500.00" y2="1667.69" stroke-width="6.5"/>
<line x1="1489.00" y1="1529.03" x2="1500.00" y2="1529.03" stroke-width="6.5"/>
<line x1="1589.30" y1="2153.00" x2="1589.30" y2="2171.80" stroke-width="5"/>
<line x1="1725.30" y1="2153.00" x2="1725.30" y2="2171.80" stroke-width="5"/>
</g>
<rect x="1546.2" y="1463" width="86.8" height="690" fill="#1c1c1c"/>
<rect x="1681.2" y="1524.1" width="86.6" height="628.9" fill="#6a6a6a" stroke="#000" stroke-width="2.5"/>
<g stroke="#000">
<line x1="1589.60" y1="1452.50" x2="1589.60" y2="1463.00" stroke-width="3.2"/>
<line x1="1565.00" y1="1452.60" x2="1613.80" y2="1452.60" stroke-width="3.2"/>
<line x1="1725.00" y1="1517.00" x2="1725.00" y2="1523.00" stroke-width="3.2"/>
<line x1="1701.60" y1="1517.00" x2="1748.00" y2="1517.00" stroke-width="5.2"/>
</g>
<text x="1711.35" y="1499.35" font-size="53" font-family="DejaVu Sans, sans-serif" transform="rotate(90 1724.6 1472.1)">*</text>
<text x="1441.97" y="2170.50" font-size="51.5" textLength="27.78" lengthAdjust="spacingAndGlyphs">0</text>
<text x="1414.19" y="2031.84" font-size="51.5" textLength="55.57" lengthAdjust="spacingAndGlyphs">20</text>
<text x="1414.19" y="1893.18" font-size="51.5" textLength="55.57" lengthAdjust="spacingAndGlyphs">40</text>
<text x="1414.19" y="1754.52" font-size="51.5" textLength="55.57" lengthAdjust="spacingAndGlyphs">60</text>
<text x="1414.19" y="1615.86" font-size="51.5" textLength="55.57" lengthAdjust="spacingAndGlyphs">80</text>
<text x="1386.40" y="1477.20" font-size="51.5" textLength="83.35" lengthAdjust="spacingAndGlyphs">100</text>
<text x="1575.41" y="2219.50" font-size="51.5" textLength="27.78" lengthAdjust="spacingAndGlyphs">0</text>
<text x="1715.03" y="2219.50" font-size="51.5" textLength="18.06" lengthAdjust="spacingAndGlyphs">1</text>
<text x="1565.12" y="1417.60" font-size="56.4" textLength="169.69" lengthAdjust="spacingAndGlyphs">G6PDH</text>
<text transform="translate(1371.00,2117.30) rotate(-90)" x="-2.48" y="0" font-size="54.5" textLength="169.69" lengthAdjust="spacingAndGlyphs">G6PDH</text>
<text transform="translate(1371.00,1931.70) rotate(-90)" x="-3.60" y="0" font-size="54.5" textLength="174.71" lengthAdjust="spacingAndGlyphs">relative</text>
<text transform="translate(1371.00,1746.00) rotate(-90)" x="-2.34" y="0" font-size="54.5" textLength="168.45" lengthAdjust="spacingAndGlyphs">activity</text>
<text transform="translate(1371.00,1560.70) rotate(-90)" x="-2.94" y="0" font-size="54.5" textLength="73.78" lengthAdjust="spacingAndGlyphs">(%)</text>
<text x="1548.26" y="2283.90" font-size="58.9" font-weight="bold" textLength="41.77" lengthAdjust="spacingAndGlyphs" stroke="#fff" stroke-width="0.5">Li</text>
<text x="1598.53" y="2261.83" font-size="47.01" textLength="25.96" lengthAdjust="spacingAndGlyphs">+</text>
<text x="1636.30" y="2278.85" font-size="49.48" textLength="13.44" lengthAdjust="spacingAndGlyphs">(</text>
<text x="1651.37" y="2283.90" font-size="58.9" font-weight="bold" textLength="97.52" lengthAdjust="spacingAndGlyphs" stroke="#fff" stroke-width="0.5">mM</text>
<text x="1748.31" y="2278.85" font-size="49.48" textLength="16.70" lengthAdjust="spacingAndGlyphs">)</text>
<text x="1297.64" y="1370.00" font-size="67.6" font-weight="bold" textLength="41.53" lengthAdjust="spacingAndGlyphs">C</text>
</svg>
</body></html>
